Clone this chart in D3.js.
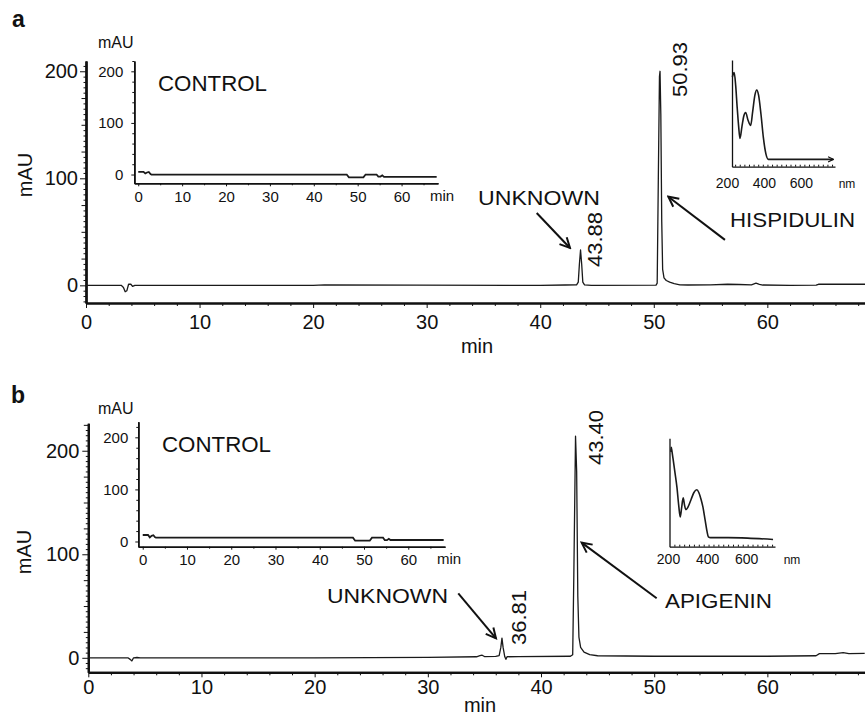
<!DOCTYPE html>
<html><head><meta charset="utf-8">
<script src="https://cdn.jsdelivr.net/npm/d3@7"></script>
<style>
body{margin:0;background:#fff;}
svg{display:block;font-family:"Liberation Sans",Arial,Helvetica,sans-serif;}
</style></head><body>
<script>
// ---------------- DATA ----------------
const panelLetters = ["a", "b"];
const mainXTicks = [0, 10, 20, 30, 40, 50, 60];
const mainYTicks = [0, 100, 200];
const insetXTicks = [0, 10, 20, 30, 40, 50, 60];
const insetYTicks = [0, 100, 200];
const uvTicks = [200, 400, 600];
const compoundNames = ["HISPIDULIN", "APIGENIN"];
const unknownLabel = "UNKNOWN";
const controlLabel = "CONTROL";

// Panel a chromatogram (time, min / absorbance, mAU)
const traceATime = [0,3.1,3.3,3.45,3.6,3.75,3.95,4.1,4.3,20,21,40,42.2,43.2,43.35,43.45,43.55,43.65,43.75,43.9,44.5,50.2,50.3,50.4,50.5,50.55,50.62,50.7,50.78,50.9,51.1,51.4,51.8,52.3,53,55,56.5,57.5,58.6,59.0,59.3,59.6,62,64.3,64.5,68.6];
const traceAmAU  = [0,0,-2,-6,-5,1,1,-1,0,0,0.4,0,0.3,0.5,3,20,33,20,3,0.5,0,0.2,2,100,195,200,160,60,15,7,4.5,3,1.5,0.5,0.3,0.5,1,0.8,0.5,2,1,0.3,0,0.2,1,1];
const retTimesA = ["43.88", "50.93"];

// Panel b chromatogram
const traceBTime = [0,3.5,3.7,3.85,4.0,4.3,4.6,20,30,34.3,34.6,34.8,35.0,36.0,36.3,36.45,36.55,36.65,36.8,36.9,37.0,38,42.6,42.8,42.9,43.05,43.15,43.25,43.35,43.5,43.8,44.3,45,50,60,64.3,64.6,66,66.7,67.2,68.6];
const traceBmAU  = [0,0,-1.5,-3,0,0.3,0,0,0.5,1,2,2.5,1.2,1.3,2,10,19,10,1,-1.5,1,1.2,1.5,3,80,214,180,60,20,10,5.5,3,2,1.5,1.5,2,4,4,5,4,4.3];
const retTimesB = ["36.81", "43.40"];

// Control chromatograms (insets)
const controlATime = [0,1.2,1.6,2.0,2.4,2.8,3.0,47.5,48,51.3,51.8,54.3,54.7,55.2,55.6,56,68];
const controlAmAU  = [5,5,2,4,5,1,0,0,-5.5,-5.5,0,0,-4,-4,-1.5,-4.5,-4.5];
const controlBTime = [0,1.2,1.6,2.0,2.4,2.8,3.0,47.5,48,51.3,51.8,54.3,54.7,55.2,55.6,56,68];
const controlBmAU  = [12.5,12.5,8,11,12,8,7.3,7.3,1.5,1.5,7.3,7.3,2.5,2.5,5,2.9,2.9];

// UV spectra (wavelength nm / relative absorbance)
const specANm  = [210,214,220,228,236,244,251,262,272,282,295,309,320,332,342,352,365,378,392,405,500,650,757];
const specAAbs = [0.95,0.98,1.0,0.85,0.6,0.38,0.24,0.38,0.5,0.54,0.45,0.39,0.55,0.74,0.8,0.74,0.52,0.25,0.06,0.0,0.0,0.0,0.0];
const specBNm  = [207,209,213,219,228,238,247,255,262,270,277,284,295,310,325,340,350,362,371,382,392,399,410,500,600,730];
const specBAbs = [0.95,1.0,0.95,0.86,0.72,0.56,0.36,0.23,0.33,0.44,0.36,0.31,0.34,0.42,0.5,0.53,0.5,0.42,0.34,0.2,0.07,0.01,0,0,-0.005,-0.02];

// ---------------- LAYOUT ----------------
const W = 865, H = 717;
const svg = d3.select("body").append("svg").attr("width", W).attr("height", H);
svg.append("rect").attr("width", W).attr("height", H).attr("fill", "#fff");

const defs = svg.append("defs");
defs.append("marker").attr("id", "arr").attr("viewBox", "0 0 14 14")
  .attr("refX", 12).attr("refY", 7).attr("markerWidth", 14).attr("markerHeight", 14)
  .attr("markerUnits", "userSpaceOnUse").attr("orient", "auto")
  .append("path").attr("d", "M2,2 L12,7 L2,12").attr("fill", "none")
  .attr("stroke", "#111").attr("stroke-width", 2);
defs.append("marker").attr("id", "arrSmall").attr("viewBox", "0 0 8 8")
  .attr("refX", 7).attr("refY", 4).attr("markerWidth", 7).attr("markerHeight", 7)
  .attr("markerUnits", "userSpaceOnUse").attr("orient", "auto")
  .append("path").attr("d", "M1,1 L7,4 L1,7").attr("fill", "none")
  .attr("stroke", "#111").attr("stroke-width", 1.3);

function styleAxis(g, fs, domW) {
  g.attr("font-family", null).attr("font-size", null);
  g.select(".domain").attr("stroke", "#111").attr("stroke-width", domW);
  g.selectAll(".tick line").attr("stroke", "#111").attr("stroke-width", 1);
  g.selectAll(".tick text").attr("fill", "#111").style("font-size", fs + "px");
}

function zip(a, b) { return a.map((v, i) => [v, b[i]]); }

const panels = [
  {
    letter: panelLetters[0], letterPos: [12, 27],
    x: d3.scaleLinear().domain([0, 68.6]).range([86, 865]),
    y: d3.scaleLinear().domain([-16.5, 209.6]).range([303, 61]),
    xPad: 7, yPad: 2, trace: zip(traceATime, traceAmAU),
    minPos: [477, 353], mAUPos: [32, 175],
    inset: {
      x: d3.scaleLinear().domain([-0.9, 68.3]).range([134.3, 438]),
      y: d3.scaleLinear().domain([-17, 220]).range([183.3, 61]),
      yPad: 8, data: zip(controlATime, controlAmAU),
      mAU: [98, 48], ctrl: [158, 91], min: [430, 201]
    },
    uv: {
      x: d3.scaleLinear().domain([208, 766]).range([732, 835]),
      y: d3.scaleLinear().domain([-0.085, 1.146]).range([166.7, 60]),
      data: zip(specANm, specAAbs), labY: 188, lblDx: -3, nmX: 847, arrow: true
    },
    rt: [{t: retTimesA[0], x: 602, y: 267}, {t: retTimesA[1], x: 687, y: 97}],
    texts: [
      {s: unknownLabel, x: 478, y: 205, w: 122},
      {s: compoundNames[0], x: 730, y: 227, w: 125}
    ],
    arrows: [
      {from: [39.69, 67.6], to: [42.62, 34.9]},
      {from: [56.27, 42.5], to: [51.28, 82.8]}
    ]
  },
  {
    letter: panelLetters[1], letterPos: [11, 403],
    x: d3.scaleLinear().domain([0, 68.6]).range([88.3, 864.7]),
    y: d3.scaleLinear().domain([-14, 226.5]).range([672.3, 423.3]),
    xPad: 3, yPad: 3, trace: zip(traceBTime, traceBmAU),
    minPos: [480, 712], mAUPos: [31, 552],
    inset: {
      x: d3.scaleLinear().domain([-1, 68.3]).range([138.3, 445]),
      y: d3.scaleLinear().domain([-10, 230]).range([546.7, 421.7]),
      yPad: 7, data: zip(controlBTime, controlBmAU),
      mAU: [98, 414], ctrl: [162, 452.3], min: [437, 564]
    },
    uv: {
      x: d3.scaleLinear().domain([200, 740]).range([669.5, 775]),
      y: d3.scaleLinear().domain([-0.1, 1.1]).range([546.7, 438.3]),
      data: zip(specBNm, specBAbs), labY: 564, lblDx: -1, nmX: 792, arrow: false
    },
    rt: [{t: retTimesB[0], x: 526, y: 645}, {t: retTimesB[1], x: 603, y: 465}],
    texts: [
      {s: unknownLabel, x: 327, y: 603.3, w: 121},
      {s: compoundNames[1], x: 665, y: 608.3, w: 107}
    ],
    arrows: [
      {from: [32.69, 62.3], to: [36.02, 18.84]},
      {from: [50.22, 57.5], to: [43.59, 111.2]}
    ]
  }
];

panels.forEach(p => {
  const g = svg.append("g");
  const x = p.x, y = p.y;
  const x0 = x.range()[0], yb = y.range()[0];

  // panel letter
  g.append("text").attr("x", p.letterPos[0]).attr("y", p.letterPos[1])
    .attr("font-weight", "bold").attr("font-size", 23).attr("fill", "#111").text(p.letter);

  // ---- main axes ----
  const minorX = d3.range(0, 69, 2).filter(v => v % 10 !== 0);
  g.append("g").attr("transform", `translate(0,${yb})`)
    .call(d3.axisBottom(x).tickValues(minorX).tickSize(3).tickFormat("").tickSizeOuter(0))
    .call(a => styleAxis(a, 20, 2.2));
  g.append("g").attr("transform", `translate(0,${yb})`)
    .call(d3.axisBottom(x).tickValues(mainXTicks).tickSize(5).tickPadding(p.xPad).tickSizeOuter(0))
    .call(a => styleAxis(a, 20, 2.2));

  const yLo = y.domain()[0], yHi = y.domain()[1];
  const minorY = d3.range(Math.ceil(yLo / 5) * 5, yHi, 5).filter(v => v % 25 !== 0);
  const midY = d3.range(Math.ceil(yLo / 25) * 25, yHi, 25).filter(v => v % 100 !== 0);
  g.append("g").attr("transform", `translate(${x0},0)`)
    .call(d3.axisLeft(y).tickValues(minorY).tickSize(2.5).tickFormat("").tickSizeOuter(0))
    .call(a => styleAxis(a, 20, 2));
  g.append("g").attr("transform", `translate(${x0},0)`)
    .call(d3.axisLeft(y).tickValues(midY).tickSize(4.5).tickFormat("").tickSizeOuter(0))
    .call(a => styleAxis(a, 20, 2));
  g.append("g").attr("transform", `translate(${x0},0)`)
    .call(d3.axisLeft(y).tickValues(mainYTicks).tickSize(6).tickPadding(p.yPad).tickSizeOuter(0))
    .call(a => styleAxis(a, 20, 2));

  // axis titles
  g.append("text").attr("x", p.minPos[0]).attr("y", p.minPos[1]).attr("text-anchor", "middle")
    .attr("font-size", 20).attr("fill", "#111").text("min");
  g.append("text").attr("transform", `translate(${p.mAUPos[0]},${p.mAUPos[1]}) rotate(-90)`)
    .attr("text-anchor", "middle").attr("font-size", 20).attr("fill", "#111").text("mAU");

  // trace
  g.append("path").datum(p.trace)
    .attr("d", d3.line().x(d => x(d[0])).y(d => y(d[1])))
    .attr("fill", "none").attr("stroke", "#1a1a1a").attr("stroke-width", 1.3)
    .attr("stroke-linejoin", "round");

  // retention time labels
  p.rt.forEach(r => {
    g.append("text").attr("transform", `translate(${r.x},${r.y}) rotate(-90)`)
      .attr("font-size", 21).attr("fill", "#111")
      .attr("textLength", 55).attr("lengthAdjust", "spacingAndGlyphs").text(r.t);
  });
  // names
  p.texts.forEach(t => {
    g.append("text").attr("x", t.x).attr("y", t.y).attr("font-size", 21).attr("fill", "#111")
      .attr("textLength", t.w).attr("lengthAdjust", "spacingAndGlyphs").text(t.s);
  });
  // arrows
  p.arrows.forEach(a => {
    g.append("line").attr("x1", x(a.from[0])).attr("y1", y(a.from[1]))
      .attr("x2", x(a.to[0])).attr("y2", y(a.to[1]))
      .attr("stroke", "#111").attr("stroke-width", 2).attr("marker-end", "url(#arr)");
  });

  // ---- control inset ----
  const I = p.inset, ix = I.x, iy = I.y;
  const ixb = iy.range()[0], iyl = ix.range()[0];
  g.append("g").attr("transform", `translate(0,${ixb})`)
    .call(d3.axisBottom(ix).tickValues(d3.range(5, 66, 10)).tickSize(2).tickFormat("").tickSizeOuter(0))
    .call(a => styleAxis(a, 15, 1.6));
  g.append("g").attr("transform", `translate(0,${ixb})`)
    .call(d3.axisBottom(ix).tickValues(insetXTicks).tickSize(3).tickPadding(5).tickSizeOuter(0))
    .call(a => styleAxis(a, 15, 1.6));
  g.append("g").attr("transform", `translate(${iyl},0)`)
    .call(d3.axisLeft(iy).tickValues(d3.range(20, 221, 20).filter(v => v % 100 !== 0)).tickSize(2).tickFormat("").tickSizeOuter(0))
    .call(a => styleAxis(a, 15, 1.6));
  g.append("g").attr("transform", `translate(${iyl},0)`)
    .call(d3.axisLeft(iy).tickValues(insetYTicks).tickSize(3).tickPadding(I.yPad).tickSizeOuter(0))
    .call(a => styleAxis(a, 15, 1.6));
  g.append("path").datum(I.data)
    .attr("d", d3.line().x(d => ix(d[0])).y(d => iy(d[1])))
    .attr("fill", "none").attr("stroke", "#1a1a1a").attr("stroke-width", 1.8);
  g.append("text").attr("x", I.mAU[0]).attr("y", I.mAU[1]).attr("font-size", 16).attr("fill", "#111").text("mAU");
  g.append("text").attr("x", I.ctrl[0]).attr("y", I.ctrl[1]).attr("font-size", 22).attr("fill", "#111")
    .attr("textLength", 109).attr("lengthAdjust", "spacingAndGlyphs").text(controlLabel);
  g.append("text").attr("x", I.min[0]).attr("y", I.min[1]).attr("font-size", 15).attr("fill", "#111").text("min");

  // ---- UV spectrum inset ----
  const U = p.uv, ux = U.x, uy = U.y;
  const uxb = uy.range()[0], uyl = ux.range()[0];
  g.append("g").attr("transform", `translate(0,${uxb})`)
    .call(d3.axisBottom(ux).tickValues(d3.range(225, ux.domain()[1], 25)).tickSize(-2).tickFormat("").tickSizeOuter(0))
    .call(a => styleAxis(a, 14, 1.3));
  g.append("g").attr("transform", `translate(${uyl},0)`)
    .call(d3.axisLeft(uy).tickValues([]).tickSizeOuter(0))
    .call(a => styleAxis(a, 14, 1.3));
  uvTicks.forEach(v => {
    g.append("text").attr("x", ux(v) + U.lblDx).attr("y", U.labY).attr("text-anchor", "middle")
      .attr("font-size", 14).attr("fill", "#111").text(v);
  });
  g.append("text").attr("x", U.nmX).attr("y", U.labY).attr("text-anchor", "middle")
    .attr("font-size", 12).attr("fill", "#111").text("nm");
  const sp = g.append("path").datum(U.data)
    .attr("d", d3.line().x(d => ux(d[0])).y(d => uy(d[1])).curve(d3.curveMonotoneX))
    .attr("fill", "none").attr("stroke", "#1a1a1a").attr("stroke-width", 1.6);
  if (U.arrow) sp.attr("marker-end", "url(#arrSmall)");
});
</script>
</body></html>
